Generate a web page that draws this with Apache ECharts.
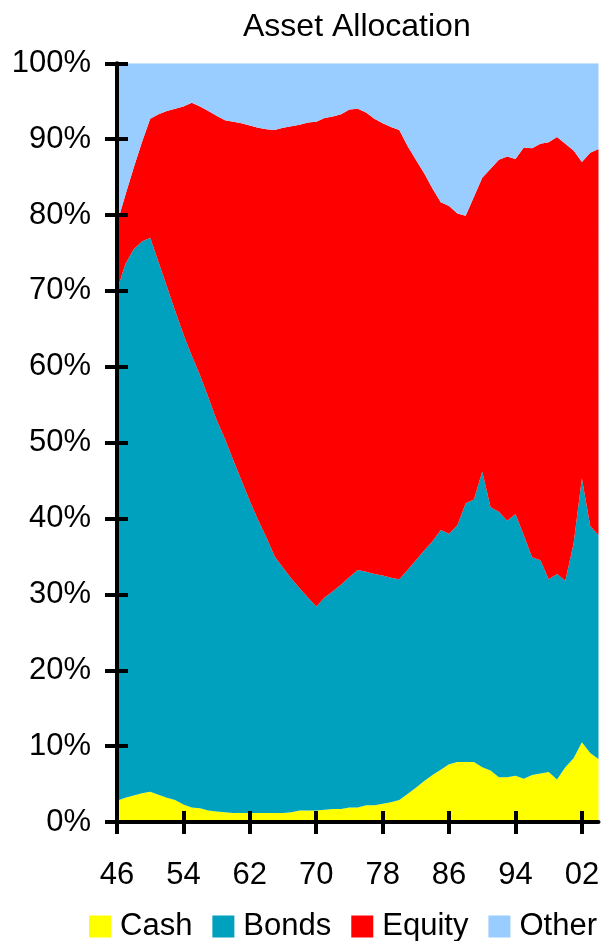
<!DOCTYPE html>
<html>
<head>
<meta charset="utf-8">
<title>Asset Allocation</title>
<script src="https://cdn.jsdelivr.net/npm/echarts@6/dist/echarts.min.js"></script>
<style>
  html, body { margin: 0; padding: 0; background: #fff; }
  #chart { width: 605px; height: 941px; }
</style>
</head>
<body>
<div id="chart"></div>
<script>
// years 1946 - 2004, shown as two digits
var years = ['46', '47', '48', '49', '50', '51', '52', '53', '54', '55',
  '56', '57', '58', '59', '60', '61', '62', '63', '64', '65',
  '66', '67', '68', '69', '70', '71', '72', '73', '74', '75',
  '76', '77', '78', '79', '80', '81', '82', '83', '84', '85',
  '86', '87', '88', '89', '90', '91', '92', '93', '94', '95',
  '96', '97', '98', '99', '00', '01', '02', '03', '04']

// share of total, in %
var cash = [2.8, 3.2, 3.5, 3.8, 4.0, 3.6, 3.2, 2.9, 2.3, 1.9,
  1.8, 1.5, 1.4, 1.3, 1.2, 1.2, 1.2, 1.2, 1.2, 1.2,
  1.2, 1.3, 1.5, 1.5, 1.5, 1.6, 1.7, 1.7, 1.9, 1.9,
  2.2, 2.2, 2.4, 2.6, 2.9, 3.7, 4.5, 5.4, 6.2, 6.9,
  7.6, 7.9, 7.9, 7.9, 7.2, 6.8, 5.9, 5.9, 6.1, 5.7,
  6.2, 6.4, 6.6, 5.6, 7.2, 8.4, 10.5, 9.1, 8.3]
var bonds = [67.3, 70.3, 72.0, 72.7, 73.0, 70.2, 67.4, 64.5, 62.0, 59.6,
  57.1, 54.5, 51.6, 49.2, 46.5, 43.8, 41.1, 38.6, 36.3, 33.8,
  32.3, 30.8, 29.3, 28.1, 26.9, 28.0, 28.7, 29.6, 30.4, 31.3,
  30.8, 30.5, 30.1, 29.6, 29.1, 29.5, 30.0, 30.4, 30.8, 31.6,
  30.4, 31.2, 34.1, 34.6, 39.0, 34.7, 35.0, 33.8, 34.5, 32.1,
  28.7, 28.1, 25.4, 27.1, 24.6, 28.3, 34.8, 29.9, 29.5]
var equity = [8.8, 9.1, 10.7, 13.1, 15.7, 19.5, 23.1, 26.6, 30.0, 33.3,
  35.4, 37.7, 40.1, 42.0, 44.6, 47.1, 49.5, 51.7, 53.8, 56.2,
  58.0, 59.6, 61.1, 62.6, 63.9, 63.2, 62.6, 62.0, 61.6, 60.8,
  60.5, 60.0, 59.6, 59.4, 59.2, 55.9, 52.8, 49.7, 46.5, 43.2,
  43.2, 41.1, 37.9, 39.9, 38.7, 44.6, 46.4, 48.0, 46.8, 51.1,
  53.9, 54.9, 57.6, 57.6, 57.6, 51.8, 41.7, 49.2, 50.9]
var other = [21.1, 17.4, 13.8, 10.4, 7.3, 6.7, 6.3, 6.0, 5.7, 5.2,
  5.7, 6.3, 6.9, 7.5, 7.7, 7.9, 8.2, 8.5, 8.7, 8.8,
  8.5, 8.3, 8.1, 7.8, 7.7, 7.2, 7.0, 6.7, 6.1, 6.0,
  6.5, 7.3, 7.9, 8.4, 8.8, 10.9, 12.7, 14.5, 16.5, 18.3,
  18.8, 19.8, 20.1, 17.6, 15.1, 13.9, 12.7, 12.3, 12.6, 11.1,
  11.2, 10.6, 10.4, 9.7, 10.6, 11.5, 13.0, 11.8, 11.3]

var seriesNames = ['Cash', 'Bonds', 'Equity', 'Other']
var seriesColors = ['#ffff00', '#00a0bf', '#ff0000', '#99ccff']

var FONT = "'Liberation Sans', Arial, sans-serif"

var chart = echarts.init(document.getElementById('chart'), null, { renderer: 'canvas' })

function areaSeries(name, data, color) {
  return {
    name: name,
    type: 'line',
    stack: 'total',
    data: data,
    symbol: 'none',
    lineStyle: { width: 0 },
    areaStyle: { color: color, opacity: 1 },
    itemStyle: { color: color },
    z: 2
  }
}

var option = {
  animation: false,
  textStyle: { fontFamily: FONT },
  title: {
    text: 'Asset Allocation',
    left: 238,
    top: 6,
    textStyle: { fontSize: 32, fontWeight: 'normal', color: '#000', fontFamily: FONT }
  },
  legend: {
    data: seriesNames,
    left: 89,
    top: 911,
    width: 516,
    padding: 0,
    icon: 'rect',
    itemWidth: 22,
    itemHeight: 22,
    itemGap: 20,
    textStyle: { fontSize: 31, color: '#000', fontFamily: FONT, padding: [0, 0, 0, 4] }
  },
  grid: {
    left: 117,
    right: 6.5,
    top: 63.3,
    bottom: 119
  },
  xAxis: [
    {
      type: 'category',
      data: years,
      boundaryGap: false,
      position: 'bottom',
      z: 10,
      axisLine: { show: true, lineStyle: { color: '#000', width: 4 } },
      axisTick: { show: true, interval: 7, length: 12, lineStyle: { color: '#000', width: 4 } },
      axisLabel: { interval: 7, margin: 38, fontSize: 31, color: '#000', fontFamily: FONT },
      splitLine: { show: false }
    },
    {
      // second copy only for the ticks that cross into the plot
      type: 'category',
      data: years,
      boundaryGap: false,
      position: 'bottom',
      z: 10,
      axisLine: { show: false },
      axisTick: { show: true, inside: true, interval: 7, length: 11, lineStyle: { color: '#000', width: 4 } },
      axisLabel: { show: false },
      splitLine: { show: false }
    }
  ],
  yAxis: [
    {
      type: 'value',
      min: 0,
      max: 100,
      interval: 10,
      position: 'left',
      z: 10,
      axisLine: { show: true, lineStyle: { color: '#000', width: 4 } },
      axisTick: { show: true, length: 12, lineStyle: { color: '#000', width: 4 } },
      axisLabel: { formatter: '{value}%', margin: 26, fontSize: 31, color: '#000', fontFamily: FONT },
      splitLine: { show: false }
    },
    {
      type: 'value',
      min: 0,
      max: 100,
      interval: 10,
      position: 'left',
      z: 10,
      axisLine: { show: false },
      axisTick: { show: true, inside: true, length: 11, lineStyle: { color: '#000', width: 4 } },
      axisLabel: { show: false },
      splitLine: { show: false }
    }
  ],
  series: [
    areaSeries('Cash', cash, seriesColors[0]),
    areaSeries('Bonds', bonds, seriesColors[1]),
    areaSeries('Equity', equity, seriesColors[2]),
    areaSeries('Other', other, seriesColors[3])
  ]
}

chart.setOption(option)
</script>
</body>
</html>
